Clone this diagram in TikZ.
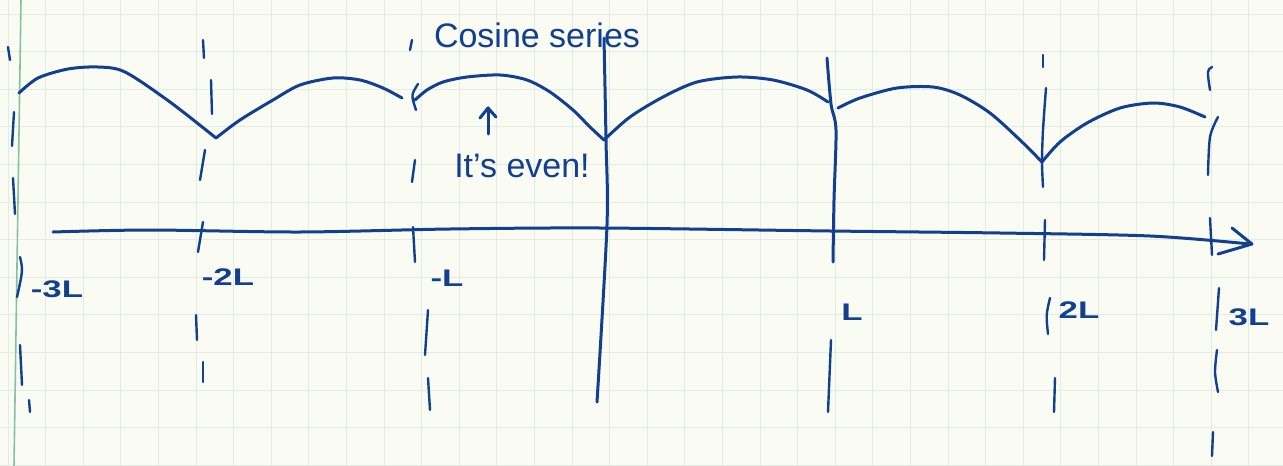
\documentclass[tikz,border=0pt]{standalone}
\usepackage{fontspec}
\setmainfont{Liberation Sans}
\definecolor{ink}{HTML}{12408F}
\definecolor{paper}{HTML}{FAFBF3}
\definecolor{gridc}{HTML}{E3ECE3}
\definecolor{margin}{HTML}{86C29C}
\newcommand{\wide}[1]{\scalebox{1.45}[1]{#1}}
\begin{document}
\begin{tikzpicture}[x=1pt,y=-1pt,
  pen/.style={draw=ink, line width=3pt, line cap=round, line join=round},
  tick/.style={draw=ink, line width=2.4pt, line cap=round, line join=round},
  lbl/.style={text=ink, inner sep=0pt, font=\bfseries\fontsize{24}{26}\selectfont},
  big/.style={text=ink, inner sep=0pt, font=\fontsize{34}{38}\selectfont}]
\useasboundingbox (0,0) rectangle (1283,466);
% paper
\fill[paper] (0,0) rectangle (1283,466);
\foreach \i in {0,...,34} \draw[gridc, line width=1pt] (\i*37.6+8,0) -- ++(0,466);
\foreach \i in {0,...,12} \draw[gridc, line width=1pt] (0,\i*37.6+14) -- ++(1283,0);
\draw[margin, line width=1.6pt] (21,0) -- (14,466);

% horizontal axis with open arrow head
\draw[pen] plot[smooth] coordinates {(53,232) (150,230) (300,232) (450,229) (600,228) (830,231) (1000,233) (1150,236) (1250,244)};
\coordinate (tip) at (1252,244);
\draw[pen] (1232,228) -- (tip) -- (1218,254);

% vertical axis
\draw[pen] plot[smooth] coordinates {(604,38) (606,140) (607,225) (597,402)};

% dashed verticals at -3L
\draw[tick] (8,47) -- (10,60);
\draw[tick] (14,112) -- (12,146);
\draw[tick] (13,178) -- (15,214);
\draw[tick] (20,257) .. controls (23,270) .. (17,297);
\draw[tick] (20,345) -- (22,385);
\draw[tick] (29,400) -- (30,412);
% -2L
\draw[tick] (203,40) -- (204,58);
\draw[tick] (211,80) -- (212,114);
\draw[tick] (205,150) -- (200,180);
\draw[tick] (203,222) -- (198,252);
\draw[tick] (196,315) -- (197,340);
\draw[tick] (203,362) -- (203,382);
% -L
\draw[tick] (412,40) -- (410,50);
\draw[tick] (418,84) .. controls (411,95) .. (416,110);
\draw[tick] (415,160) -- (412,182);
\draw[tick] (413,227) -- (415,262);
\draw[tick] (428,310) -- (425,355);
\draw[tick] (428,378) -- (430,410);
% L
\draw[pen] plot[smooth] coordinates {(827,58) (831,104) (836,130) (834,200) (833,262)};
\draw[tick] (831,340) -- (828,412);
% 2L
\draw[tick] (1043,55) -- (1043,67);
\draw[tick] plot[smooth] coordinates {(1046,88) (1043,130) (1042,162) (1043,187)};
\draw[tick] (1045,220) -- (1044,260);
\draw[tick] (1050,298) .. controls (1046,315) .. (1048,334);
\draw[tick] (1055,378) -- (1054,412);
% 3L
\draw[tick] (1212,67) .. controls (1207,70) .. (1210,90);
\draw[tick] plot[smooth] coordinates {(1218,117) (1210,137) (1208,175)};
\draw[tick] (1210,218) -- (1212,255);
\draw[tick] (1219,288) -- (1216,330);
\draw[tick] plot[smooth] coordinates {(1217,350) (1215,372) (1218,392)};
\draw[tick] (1213,432) -- (1212,456);

% arches of the even extension
\draw[pen] plot[smooth] coordinates {(19,93) (38,78) (68,69) (98,67) (125,72) (170,102) (216,138)};
\draw[pen] plot[smooth] coordinates {(216,138) (240,120) (273,100) (300,85) (333,78) (360,80) (383,88) (402,98)};
\draw[pen] plot[smooth] coordinates {(415,100) (427,90) (443,82) (467,77) (500,75) (527,80) (550,92) (573,110) (590,127) (604,140)};
\draw[pen] plot[smooth] coordinates {(604,140) (630,117) (663,97) (697,82) (737,77) (773,80) (807,90) (828,102)};
\draw[pen] plot[smooth] coordinates {(838,108) (860,98) (897,88) (933,87) (960,95) (990,113) (1020,140) (1042,162)};
\draw[pen] plot[smooth] coordinates {(1042,162) (1060,142) (1087,123) (1120,108) (1153,103) (1180,107) (1205,117)};

% texts
\node[big] (cos) at (537,35) {Cosine series};
\node[big] (even) at (522,166) {It's even!};
\coordinate (archpt) at (488,108);
\coordinate (arrowbase) at (488,134);
\draw[pen] (arrowbase) -- (archpt);
\draw[pen] (480,118) -- (archpt) -- (496,117);

\node[lbl] (m3) at (57,289) {\wide{-3L}};
\node[lbl] (m2) at (228,277) {\wide{-2L}};
\node[lbl] (m1) at (447,278) {\wide{-L}};
\node[lbl] (p1) at (852,312) {\wide{L}};
\node[lbl] (p2) at (1079,310) {\wide{2L}};
\node[lbl] (p3) at (1249,317) {\wide{3L}};
\end{tikzpicture}
\end{document}
